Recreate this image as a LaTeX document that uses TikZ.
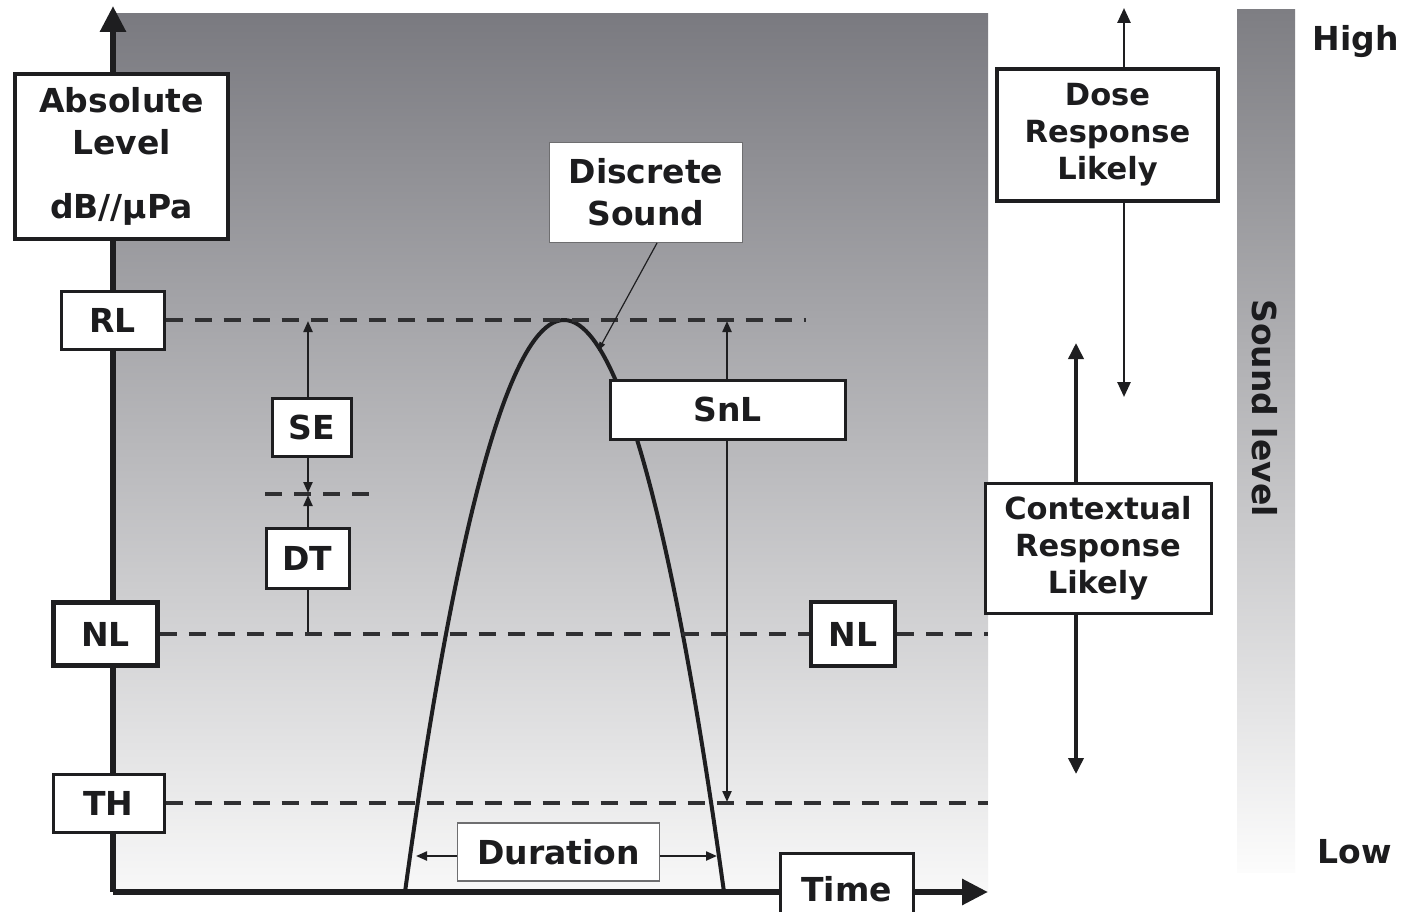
\documentclass[tikz,border=0pt]{standalone}
\usepackage{fontspec}
\setsansfont{DejaVu Sans}
\usetikzlibrary{arrows.meta}
\definecolor{panelTop}{RGB}{122,122,128}
\definecolor{panelMid}{RGB}{182,182,187}
\definecolor{panelBot}{RGB}{248,248,248}
\definecolor{barTop}{RGB}{126,126,131}
\definecolor{barMid}{RGB}{190,190,194}
\definecolor{barBot}{RGB}{252,252,252}
\definecolor{inkc}{RGB}{28,28,30}
\definecolor{linec}{RGB}{30,30,32}
\definecolor{thinbox}{RGB}{110,110,112}
\newcommand\mainfs{\sffamily\bfseries\fontsize{33}{42}\selectfont}
\newcommand\smallfs{\sffamily\bfseries\fontsize{30.5}{37}\selectfont}
\begin{document}
\begin{tikzpicture}[x=1pt,y=-1pt,
  box/.style={draw=linec, fill=white, line width=3pt, text=inkc, font=\mainfs, inner sep=0pt, align=center},
  dashline/.style={draw=linec!92, line width=3.6pt, dash pattern=on 17pt off 12pt},
  thinarr/.style={draw=linec, line width=2.2pt, -{Triangle[length=11pt,width=9pt]}},
  boththin/.style={draw=linec, line width=2.2pt, {Triangle[length=11pt,width=9pt]}-{Triangle[length=11pt,width=9pt]}},
  medarr/.style={draw=linec, line width=2.6pt, -{Triangle[length=15pt,width=13pt]}},
  thickarr/.style={draw=linec, line width=3.6pt, -{Triangle[length=16pt,width=15pt]}},
  axisline/.style={draw=linec, line width=6pt, -{Triangle[length=26pt,width=25pt]}},
  lbltext/.style={text=inkc, font=\mainfs, inner sep=0pt}
]
\useasboundingbox (0,0) rectangle (1406,912);
\clip (0,0) rectangle (1406,912);
\fill[white] (0,0) rectangle (1406,912);

% background panel and level bar
\shade[top color=panelTop, middle color=panelMid, bottom color=panelBot] (116,14) rectangle (988,892);
\shade[top color=barTop, middle color=barMid, bottom color=barBot] (1237,10) rectangle (1295,872);

% named coordinates
\coordinate (origin) at (113,892);
\coordinate (ytop) at (113,6);
\coordinate (xend) at (988,892);
\coordinate (rlend) at (806,320);
\coordinate (nlend) at (988,634);
\coordinate (thend) at (988,803);
\coordinate (dtA) at (265,494);
\coordinate (dtB) at (373,494);
\coordinate (seTop) at (308,321);
\coordinate (seBot) at (308,493);
\coordinate (dtTop) at (308,495);
\coordinate (dtBot) at (308,634);
\coordinate (snlTop) at (727,321);
\coordinate (snlBot) at (727,802);
\coordinate (doseTop) at (1124,8);
\coordinate (doseBot) at (1124,397);
\coordinate (ctxTop) at (1076,343);
\coordinate (ctxBot) at (1076,774);
\coordinate (durL) at (416,856);
\coordinate (durR) at (717,856);
\coordinate (discA) at (657,243);
\coordinate (discTip) at (598,351);
\coordinate (curveL) at (405,892);
\coordinate (peak) at (564,320);
\coordinate (curveR) at (724,892);

% axes
\draw[axisline] (origin) -- (ytop);
\draw[axisline] (origin) -- (xend);

% sound curve
\draw[linec, line width=4pt, line join=round] (curveL) parabola bend (peak) (curveR);

% dashed level lines
\draw[dashline] (dtA) -- (dtB);

% vertical measures
\draw[boththin] (seTop) -- (seBot);
\draw[thinarr] (dtBot) -- (dtTop);
\draw[boththin] (snlTop) -- (snlBot);

% boxes
\node[box, line width=4pt, minimum width=213pt, minimum height=165pt] (abs) at (121.5,156.5)
  {Absolute\\Level\\[22pt]dB//μPa};
\node[box, minimum width=103pt, minimum height=58pt] (RL) at (112.5,320) {RL};
\node[box, minimum width=79pt, minimum height=58pt] (SE) at (311.5,427) {SE};
\node[box, minimum width=83pt, minimum height=60pt] (DT) at (307.5,558) {DT};
\node[box, line width=4.5pt, minimum width=104pt, minimum height=63pt] (NLl) at (105.5,634) {NL};
\node[box, minimum width=111pt, minimum height=58pt] (TH) at (108.5,803) {TH};
\node[box, draw=thinbox, line width=1.5pt, minimum width=193pt, minimum height=100pt] (disc) at (646,192.5)
  {Discrete\\Sound};
\node[box, minimum width=235pt, minimum height=59pt] (SnL) at (727.5,409.5) {SnL};
\node[box, line width=4pt, minimum width=84pt, minimum height=64pt] (NLr) at (853,634) {NL};
\node[box, draw=thinbox, line width=1.5pt, minimum width=202pt, minimum height=58pt] (dur) at (558.5,852) {Duration};
\node[box, minimum width=133pt, minimum height=72pt] (time) at (846.5,889) {Time};
\node[box, line width=4pt, font=\smallfs, minimum width=221pt, minimum height=132pt] (dose) at (1107.5,135)
  {Dose\\Response\\Likely};
\node[box, font=\smallfs, minimum width=226pt, minimum height=130pt] (ctx) at (1098,548)
  {Contextual\\Response\\Likely};

% dashed lines from boxes
\draw[dashline] (RL.east) -- (rlend);
\draw[dashline] (NLl.east) -- (NLr.west);
\draw[dashline] (NLr.east) -- (nlend);
\draw[dashline] (TH.east) -- (thend);

% connectors
\draw[linec, line width=1.2pt, -{Triangle[length=9pt,width=6pt]}] (discA) -- (discTip);
\draw[thinarr] (dur.west |- durL) -- (durL);
\draw[thinarr] (dur.east |- durR) -- (durR);
\draw[medarr] (dose.north -| doseTop) -- (doseTop);
\draw[medarr] (dose.south -| doseBot) -- (doseBot);
\draw[thickarr] (ctx.north -| ctxTop) -- (ctxTop);
\draw[thickarr] (ctx.south -| ctxBot) -- (ctxBot);

% side labels
\node[lbltext] (high) at (1356,42) {High};
\node[lbltext] (low) at (1355,852) {Low};
\node[lbltext, rotate=-90] (slevel) at (1265,408) {Sound level};
\end{tikzpicture}
\end{document}
